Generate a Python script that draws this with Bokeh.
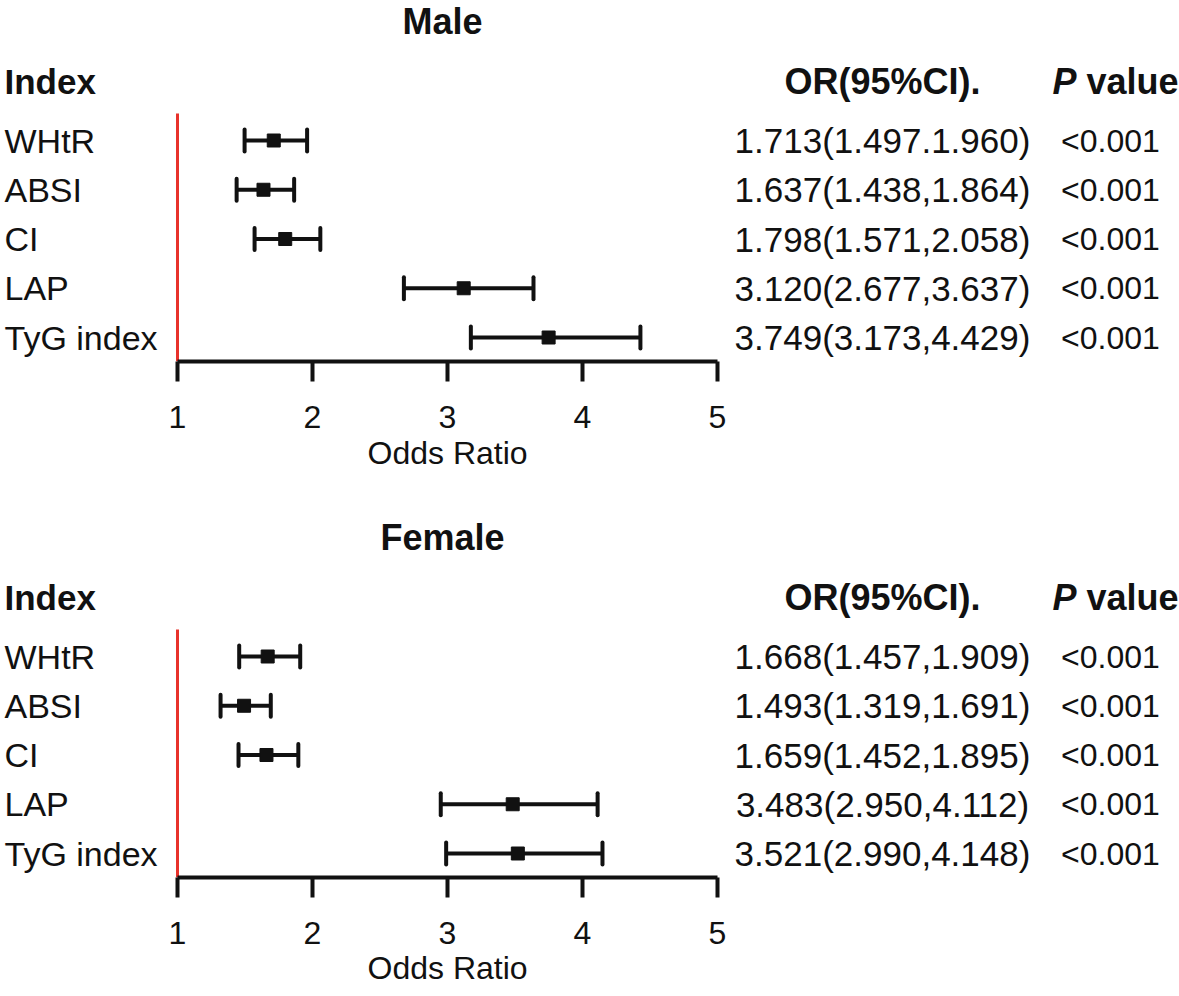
import math
from bokeh.plotting import figure
from bokeh.models import Range1d, LinearAxis, FixedTicker, ColumnDataSource, Title
from bokeh.layouts import column
from bokeh.embed import file_html
from bokeh.resources import INLINE
from bokeh.core.properties import value

# ---------------- data ----------------
indices = ["WHtR", "ABSI", "CI", "LAP", "TyG index"]

male_or = [1.713, 1.637, 1.798, 3.120, 3.749]
male_lo = [1.497, 1.438, 1.571, 2.677, 3.173]
male_hi = [1.960, 1.864, 2.058, 3.637, 4.429]
male_ci_text = ["1.713(1.497.1.960)", "1.637(1.438,1.864)", "1.798(1.571,2.058)",
                "3.120(2.677,3.637)", "3.749(3.173,4.429)"]
male_p = ["<0.001", "<0.001", "<0.001", "<0.001", "<0.001"]

female_or = [1.668, 1.493, 1.659, 3.483, 3.521]
female_lo = [1.457, 1.319, 1.452, 2.950, 2.990]
female_hi = [1.909, 1.691, 1.895, 4.112, 4.148]
female_ci_text = ["1.668(1.457,1.909)", "1.493(1.319,1.691)", "1.659(1.452,1.895)",
                  "3.483(2.950,4.112)", "3.521(2.990,4.148)"]
female_p = ["<0.001", "<0.001", "<0.001", "<0.001", "<0.001"]

x_ticks = [1, 2, 3, 4, 5]
ref_value = 1
x_label = "Odds Ratio"
col_index = "Index"
col_or = "OR(95%CI)."
col_p_italic = "P"
col_p_rest = "value"

# ---------------- geometry ----------------
FONT = "Liberation Sans"
INK = "#111111"
W = 1179
FRAME_H = 361
PX_PER_UNIT = 135.0
X_ONE_PX = 177.0
X_START = 1 - X_ONE_PX / PX_PER_UNIT
X_END = X_START + W / PX_PER_UNIT
ROW_STEP = 49.25
ROW0 = 140.0
Y_TOP = -ROW0 / ROW_STEP
Y_BOT = (FRAME_H - ROW0) / ROW_STEP
XLABEL_W = 160.0  # approx. rendered width of the axis title at 32px


def dx(px):
    return X_START + px / PX_PER_UNIT


def dy(px):
    return (px - ROW0) / ROW_STEP


def panel(title, ors, los, his, ci_text, pvals, min_bottom, xlabel_standoff):
    p = figure(frame_width=W, frame_height=FRAME_H,
               x_range=Range1d(X_START, X_END), y_range=Range1d(Y_BOT, Y_TOP),
               x_axis_type=None, y_axis_type=None,
               toolbar_location=None, output_backend="svg",
               min_border_left=0, min_border_right=0, min_border_top=0,
               min_border_bottom=min_bottom,
               outline_line_color=None, background_fill_color="white",
               border_fill_color="white")

    rows = list(range(len(indices)))
    src = ColumnDataSource(dict(row=rows, name=indices, orv=ors, lo=los, hi=his,
                                ci=ci_text, pv=pvals))

    # reference line at OR = 1
    p.segment(x0=[ref_value], y0=[dy(113)], x1=[ref_value], y1=[Y_BOT],
              line_color="#e8322b", line_width=3)

    # CI whiskers
    p.segment(x0="lo", y0="row", x1="hi", y1="row", source=src,
              line_color=INK, line_width=4)
    p.scatter(x="lo", y="row", source=src, marker="dash", angle=math.pi / 2,
              size=22, line_color=INK, line_width=4, line_cap="round")
    p.scatter(x="hi", y="row", source=src, marker="dash", angle=math.pi / 2,
              size=22, line_color=INK, line_width=4, line_cap="round")
    p.scatter(x="orv", y="row", source=src, marker="square", size=13,
              fill_color=INK, line_color=INK)

    # row texts
    p.text(x=dx(4), y="row", text="name", source=src, text_font=value(FONT),
           text_font_size="34px", text_baseline="alphabetic", y_offset=0,
           text_color=INK)
    p.text(x=dx(882), y="row", text="ci", source=src, text_font=value(FONT),
           text_font_size="35px", text_baseline="alphabetic", text_align="center",
           y_offset=0, text_color=INK)
    p.text(x=dx(1110), y="row", text="pv", source=src, text_font=value(FONT),
           text_font_size="32px", text_baseline="alphabetic", text_align="center",
           y_offset=0, text_color=INK)

    # headers
    hy = dy(81)
    p.text(x=[dx(4)], y=[hy], text=[col_index], text_font=value(FONT),
           text_font_size="35px", text_font_style="bold", text_baseline="alphabetic",
           text_color=INK)
    p.text(x=[dx(882)], y=[hy], text=[col_or], text_font=value(FONT),
           text_font_size="36px", text_font_style="bold", text_baseline="alphabetic",
           text_align="center", text_color=INK)
    p.text(x=[dx(1052)], y=[hy], text=[col_p_italic], text_font=value(FONT),
           text_font_size="36px", text_font_style="bold italic",
           text_baseline="alphabetic", text_color=INK)
    p.text(x=[dx(1086)], y=[hy], text=[col_p_rest], text_font=value(FONT),
           text_font_size="36px", text_font_style="bold", text_baseline="alphabetic",
           text_color=INK)

    # panel title
    p.text(x=[dx(442)], y=[dy(21)], text=[title], text_font=value(FONT),
           text_font_size="36px", text_font_style="bold", text_baseline="alphabetic",
           text_align="center", text_color=INK)

    ax = LinearAxis(ticker=FixedTicker(ticks=x_ticks), bounds=(x_ticks[0], x_ticks[-1]))
    ax.axis_line_width = 4
    ax.axis_line_color = INK
    ax.major_tick_line_width = 4
    ax.major_tick_line_color = INK
    ax.major_tick_out = 20
    ax.major_tick_in = 0
    ax.minor_tick_out = 0
    ax.minor_tick_in = 0
    ax.major_label_text_font = FONT
    ax.major_label_text_font_size = "32px"
    ax.major_label_text_color = INK
    ax.major_label_standoff = 24
    p.add_layout(ax, "below")

    # axis title centred under the axis bounds (1..5)
    mid_px = X_ONE_PX + ((x_ticks[0] + x_ticks[-1]) / 2.0 - 1) * PX_PER_UNIT
    xt = Title(text=x_label, align="left", offset=mid_px - XLABEL_W / 2.0,
               text_font=FONT, text_font_size="32px", text_font_style="normal",
               text_color=INK, standoff=xlabel_standoff)
    p.add_layout(xt, "below")
    return p


p_male = panel("Male", male_or, male_lo, male_hi, male_ci_text, male_p, 155, 5)
p_female = panel("Female", female_or, female_lo, female_hi, female_ci_text, female_p, 0, 2)

layout = column(p_male, p_female, spacing=0)
open("out.html", "w").write(file_html(layout, INLINE))
